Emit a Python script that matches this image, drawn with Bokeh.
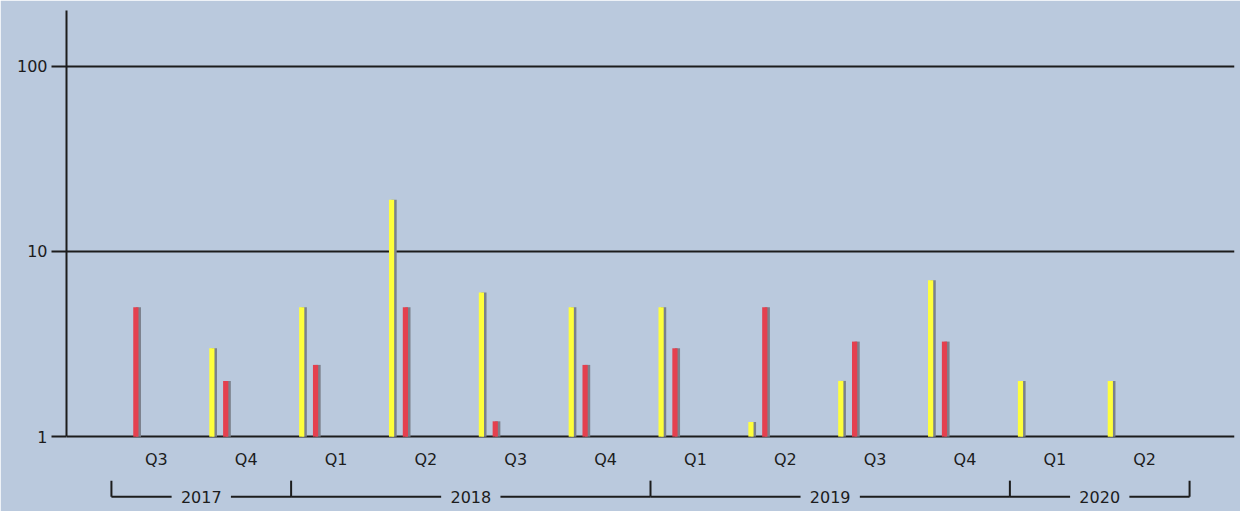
import math
from bokeh.plotting import figure
from bokeh.models import ColumnDataSource, FixedTicker, NumeralTickFormatter, Range1d
from bokeh.core.properties import value
from bokeh.embed import file_html
from bokeh.resources import INLINE

# ---------------- data ----------------
quarters = ["Q3", "Q4", "Q1", "Q2", "Q3", "Q4", "Q1", "Q2", "Q3", "Q4", "Q1", "Q2"]
years = ["2017", "2017", "2018", "2018", "2018", "2018",
         "2019", "2019", "2019", "2019", "2020", "2020"]
yellow_values = [None, 3, 5, 19, 6, 5, 5, 1.2, 2, 7, 2, 2]
red_values = [5, 2, 2.44, 5, 1.21, 2.44, 3, 5, 3.26, 3.26, None, None]
y_ticks = [1, 10, 100]

# ---------------- styling ----------------
BG = "#BAC9DD"
INK = "#1c1c1c"
YELLOW = "#FFFF3C"
RED = "#E4404F"
SHADE = "#7C818C"
FONT = value("DejaVu Sans")
FS = "16px"

W, H = 1240, 511
TOP_PAD = 10
LEFT_PAD = 66
RIGHT_PAD = 6
FRAME_H = H - TOP_PAD
Y1 = 200.0
PXD = 185.2                      # pixels per decade
Y0 = Y1 / 10 ** (FRAME_H / PXD)


def below_one(px):
    """data value located px pixels below the value 1 on the log scale"""
    return 10 ** (-px / PXD)


n = len(quarters)
p = figure(width=W, height=H, output_backend="svg", toolbar_location=None, tools="",
           x_range=Range1d(-1, n), y_range=Range1d(Y0, Y1), y_axis_type="log",
           x_axis_location=None,
           min_border_left=LEFT_PAD, min_border_right=RIGHT_PAD,
           min_border_top=TOP_PAD, min_border_bottom=0)
p.background_fill_color = BG
p.border_fill_color = BG
p.outline_line_color = BG
p.outline_line_width = 2
p.xgrid.visible = False

# y axis
ax = p.yaxis[0]
ax.ticker = FixedTicker(ticks=y_ticks, minor_ticks=[])
ax.formatter = NumeralTickFormatter(format="0")
ax.bounds = (1, Y1)
ax.axis_line_color = INK
ax.axis_line_width = 2
ax.major_tick_line_color = INK
ax.major_tick_line_width = 2
ax.major_tick_in = 0
ax.major_tick_out = 15
ax.minor_tick_line_color = None
ax.major_label_standoff = 4
ax.major_label_text_font = "DejaVu Sans"
ax.major_label_text_font_size = FS
ax.major_label_text_color = INK

p.ygrid.ticker = FixedTicker(ticks=y_ticks, minor_ticks=[])
p.ygrid.grid_line_color = INK
p.ygrid.grid_line_width = 2

# bars
BW = 0.058
SH = 0.028
OFF = {"yellow": -0.382, "red": -0.228}


def bar_source(vals, off):
    xs, tops = [], []
    for i, v in enumerate(vals):
        if v is not None:
            xs.append(i + off)
            tops.append(v)
    return ColumnDataSource(dict(x=xs, xs=[x + SH for x in xs], top=tops, bottom=[1] * len(xs)))


for vals, key, col in [(yellow_values, "yellow", YELLOW), (red_values, "red", RED)]:
    src = bar_source(vals, OFF[key])
    p.vbar(x="xs", top="top", bottom="bottom", width=BW, source=src,
           fill_color=SHADE, line_color=None)
    p.vbar(x="x", top="top", bottom="bottom", width=BW, source=src,
           fill_color=col, line_color=None)

# quarter labels
p.text(x=list(range(n)), y=[1] * n, text=quarters, text_align="center", text_baseline="middle",
       y_offset=23, text_font=FONT, text_font_size=FS, text_color=INK)

# year groups with brackets
groups = []
for i, yv in enumerate(years):
    if groups and groups[-1][0] == yv:
        groups[-1][2] = i
    else:
        groups.append([yv, i, i])

BR_PX = 60
y_br = below_one(BR_PX)
y_tk = below_one(BR_PX - 16)
GAP = 0.33
x0s, y0s, x1s, y1s = [], [], [], []
bounds = set()
centers, labels = [], []
for yv, a, b in groups:
    left, right = a - 0.5, b + 0.5
    c = (left + right) / 2
    centers.append(c)
    labels.append(yv)
    x0s += [left, c + GAP]
    x1s += [c - GAP, right]
    y0s += [y_br, y_br]
    y1s += [y_br, y_br]
    bounds.update([left, right])
for bx in sorted(bounds):
    x0s.append(bx); x1s.append(bx); y0s.append(y_br); y1s.append(y_tk)

p.segment(x0=x0s, y0=y0s, x1=x1s, y1=y1s, line_color=INK, line_width=2)
p.text(x=centers, y=[1] * len(centers), text=labels, text_align="center", text_baseline="middle",
       y_offset=BR_PX, text_font=FONT, text_font_size=FS, text_color=INK)

open("out.html", "w").write(file_html(p, INLINE))
